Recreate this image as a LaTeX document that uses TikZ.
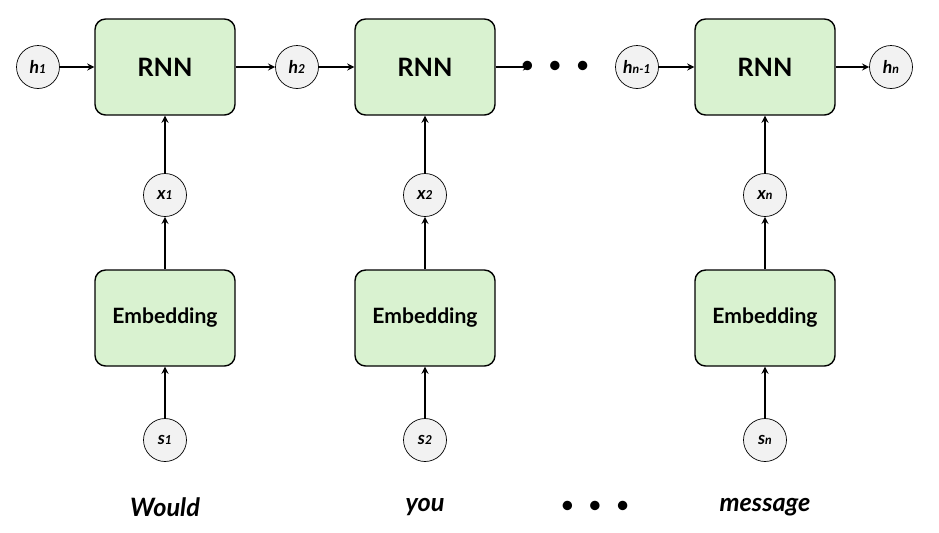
\documentclass[tikz,border=0pt]{standalone}
\usepackage{fontspec}
\setmainfont{Lato}
\usetikzlibrary{positioning}
\definecolor{boxgreen}{HTML}{D9F2D0}
\definecolor{circgray}{HTML}{F2F2F2}
\begin{document}
\begin{tikzpicture}[x=0.02cm, y=-0.02cm, thick, >=stealth,
    box/.style = {draw, rounded corners=6pt, fill=boxgreen, minimum width=2.8cm, minimum height=1.92cm, font=\Large\bfseries},
    emb/.style = {box, font=\large\bfseries},
    var/.style = {draw, thin, circle, fill=circgray, minimum size=0.86cm, inner sep=0pt, font=\bfseries\itshape},
    word/.style = {font=\Large\bfseries\itshape}]
\useasboundingbox (0,0) rectangle (939,532);
% recurrent cells
\node[box] (r1) at (165,67) {RNN};
\node[box] (r2) at (425,67) {RNN};
\node[box] (r3) at (765,67) {RNN};
\node[emb] (e1) at (165,318) {Embedding};
\node[emb] (e2) at (425,318) {Embedding};
\node[emb] (e3) at (765,318) {Embedding};
% hidden states
\node[var] (h1) at (38,67) {h\scriptsize 1};
\node[var] (h2) at (297,67) {h\scriptsize 2};
\node[var] (h4) at (637,67) {h\scriptsize n-1};
\node[var] (h5) at (891,67) {h\scriptsize n};
\node (dots) at (555,67) {\Large\textbullet\ \ \textbullet\ \ \textbullet};
\coordinate (d1) at (530,67);
% inputs
\node[var] (x1) at (165,195) {x\scriptsize 1};
\node[var] (x2) at (425,195) {x\scriptsize 2};
\node[var] (x3) at (765,195) {x\scriptsize n};
\node[var] (s1) at (165,440) {s\scriptsize 1};
\node[var] (s2) at (425,440) {s\scriptsize 2};
\node[var] (s3) at (765,440) {s\scriptsize n};
% words
\node[word] (w1) at (165,507) {Would};
\node[word] (w2) at (425,507) {you};
\node (wd) at (595,507) {\Large\textbullet\ \ \textbullet\ \ \textbullet};
\node[word] (w3) at (765,507) {message};
\draw[->] (h1) -- (r1);
\draw[->] (r1) -- (h2);
\draw[->] (h2) -- (r2);
\draw[->] (r2) -- (d1);
\draw[->] (h4) -- (r3);
\draw[->] (r3) -- (h5);
\foreach \i in {1,2,3} {
  \draw[->] (x\i) -- (r\i);
  \draw[->] (e\i) -- (x\i);
  \draw[->] (s\i) -- (e\i);
}
\end{tikzpicture}
\end{document}
